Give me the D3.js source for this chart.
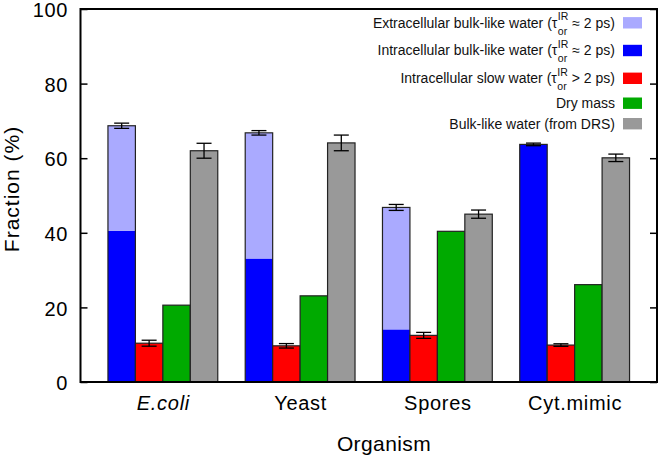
<!DOCTYPE html>
<html><head><meta charset="utf-8">
<script src="https://cdn.jsdelivr.net/npm/d3@7/dist/d3.min.js"></script>
<style>body{margin:0;background:#fff}svg{display:block}text{font-family:"Liberation Sans",Arial,Helvetica,sans-serif}</style>
</head><body>
<svg id="c" width="659" height="456"></svg>
<script>
const categories = ["E.coli", "Yeast", "Spores", "Cyt.mimic"];
const intraBulk = [40.5, 33.1, 14.1, 63.7];
const extraBulk = [28.2, 33.7, 32.7, 0];
const bulkTotalErr = [0.7, 0.6, 0.8, 0.35];
const slowWater = [10.4, 9.7, 12.5, 9.9];
const slowErr = [0.8, 0.6, 0.8, 0.35];
const dryMass = [20.6, 23.1, 40.4, 26.1];
const drsBulk = [62.0, 64.1, 45.0, 60.1];
const drsErr = [2.0, 2.1, 1.1, 1.0];
const yTicks = [0, 20, 40, 60, 80, 100];
const legendItems = [
  {pre: "Extracellular bulk-like water (τ", sym: " ≈ 2 ps)", tau: true, color: "#aaaaff"},
  {pre: "Intracellular bulk-like water (τ", sym: " ≈ 2 ps)", tau: true, color: "#0000ff"},
  {pre: "Intracellular slow water (τ", sym: " > 2 ps)", tau: true, color: "#ff0000"},
  {pre: "Dry mass", tau: false, color: "#00aa00"},
  {pre: "Bulk-like water (from DRS)", tau: false, color: "#999999"}
];

const svg = d3.select("#c");
const L = 80.5, R = 657, T = 9, B = 382;
const x = d3.scaleLinear().domain([-0.6, 3.6]).range([L, R]);
const y = d3.scaleLinear().domain([0, 100]).range([B, T]);
const bw = x(0.2) - x(0);
const offs = [-0.3, -0.1, 0.1, 0.3];
const stroke = "#222";
const FF = '"Liberation Sans",Arial,sans-serif';

const g = svg.append("g");
categories.forEach((c, i) => {
  const bx = k => x(i + offs[k]) - bw / 2;
  g.append("rect").attr("x", bx(0)).attr("width", bw).attr("y", y(intraBulk[i])).attr("height", y(0) - y(intraBulk[i])).attr("fill", "#0000ff");
  const tot = intraBulk[i] + extraBulk[i];
  if (extraBulk[i] > 0)
    g.append("rect").attr("x", bx(0)).attr("width", bw).attr("y", y(tot)).attr("height", y(intraBulk[i]) - y(tot)).attr("fill", "#aaaaff");
  g.append("rect").attr("x", bx(0)).attr("width", bw).attr("y", y(tot)).attr("height", y(0) - y(tot)).attr("fill", "none").attr("stroke", stroke).attr("stroke-width", 1.2);
  const simple = [[slowWater[i], "#ff0000"], [dryMass[i], "#00aa00"], [drsBulk[i], "#999999"]];
  simple.forEach(([v, col], j) => {
    g.append("rect").attr("x", bx(j + 1)).attr("width", bw).attr("y", y(v)).attr("height", y(0) - y(v)).attr("fill", col).attr("stroke", stroke).attr("stroke-width", 1.2);
  });
  const errs = [[0, tot, bulkTotalErr[i]], [1, slowWater[i], slowErr[i]], [3, drsBulk[i], drsErr[i]]];
  errs.forEach(([k, v, e]) => {
    const cx = x(i + offs[k]);
    const eg = g.append("g").attr("stroke", "#000").attr("stroke-width", 1.3);
    eg.append("line").attr("x1", cx).attr("x2", cx).attr("y1", y(v - e)).attr("y2", y(v + e));
    [v - e, v + e].forEach(yy => eg.append("line").attr("x1", cx - 7.5).attr("x2", cx + 7.5).attr("y1", y(yy)).attr("y2", y(yy)));
  });
});

svg.append("rect").attr("x", L).attr("y", T).attr("width", R - L).attr("height", B - T).attr("fill", "none").attr("stroke", "#000").attr("stroke-width", 2);

const ya = svg.append("g").attr("transform", `translate(${L},0)`).call(d3.axisLeft(y).tickValues(yTicks).tickSizeInner(-7).tickSizeOuter(0).tickPadding(12.5));
ya.select(".domain").remove();
ya.selectAll("line").attr("stroke", "#000").attr("stroke-width", 1.5);
ya.selectAll("text").attr("font-size", 20).attr("dy", "0.38em").attr("letter-spacing", 0.6).attr("fill", "#000").style("font-family", FF);
const yr = svg.append("g").attr("transform", `translate(${R},0)`).call(d3.axisRight(y).tickValues(yTicks).tickSizeInner(-7).tickSizeOuter(0).tickFormat(""));
yr.select(".domain").remove();
yr.selectAll("line").attr("stroke", "#000").attr("stroke-width", 1.5);

const xa = svg.append("g").attr("transform", `translate(0,${B})`).call(d3.axisBottom(x).tickValues(d3.range(categories.length)).tickFormat(i => categories[i]).tickSize(0).tickPadding(14));
xa.select(".domain").remove();
xa.selectAll("text").attr("font-size", 20).attr("letter-spacing", 0.7).attr("fill", "#000").style("font-family", FF)
  .attr("font-style", (d, i) => i === 0 ? "italic" : "normal");

svg.append("text").attr("x", 384).attr("y", 451).attr("text-anchor", "middle").attr("font-size", 21).attr("letter-spacing", 0.4).text("Organism");
svg.append("text").attr("transform", "translate(19,189) rotate(-90)").attr("text-anchor", "middle").attr("font-size", 21).attr("letter-spacing", 1).text("Fraction (%)");

const rowY = [22.8, 50.5, 78.3, 103.2, 123.7];
const lg = svg.append("g");
legendItems.forEach((d, i) => {
  const cy = rowY[i];
  lg.append("rect").attr("x", 623).attr("y", cy - 5.7).attr("width", 19).attr("height", 11.4).attr("fill", d.color);
  const t = lg.append("text").attr("x", 615).attr("y", cy + 4.8).attr("text-anchor", "end").attr("font-size", 14).attr("fill", "#111");
  t.append("tspan").text(d.pre);
  if (d.tau) {
    t.append("tspan").attr("font-size", 10.5).attr("dx", 0.5).attr("dy", -7.5).text("IR");
    t.append("tspan").attr("font-size", 10.5).attr("dx", -10.5).attr("dy", 14.5).text("or");
    t.append("tspan").attr("dx", 1.2).attr("dy", -7).text(d.sym);
  }
});
</script>
</body></html>
